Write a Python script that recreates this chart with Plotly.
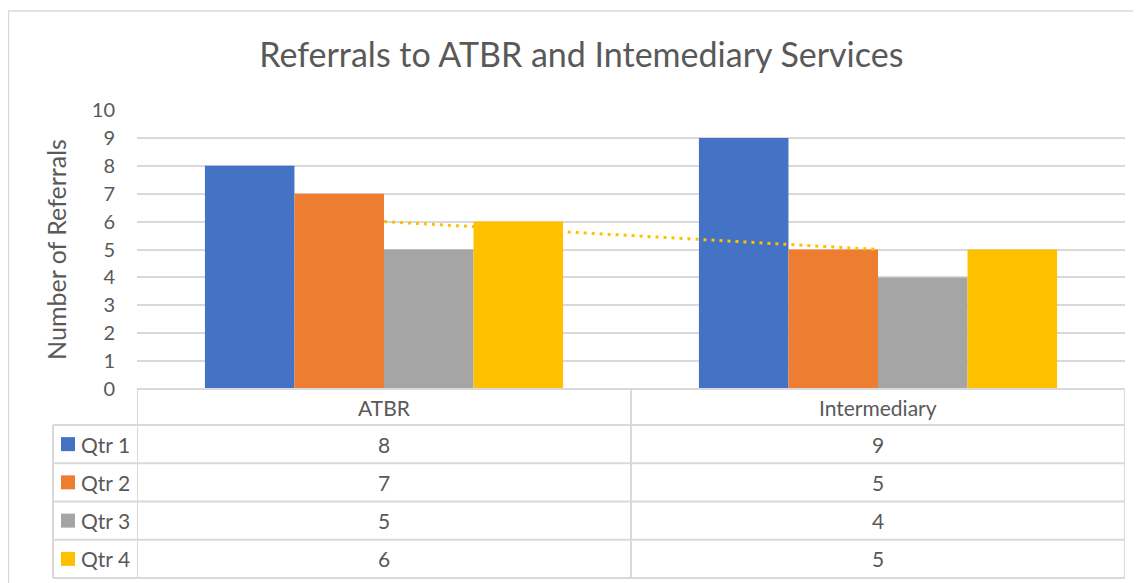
import numpy as np
import plotly.graph_objects as go

categories = ["ATBR", "Intermediary"]
series_names = ["Qtr 1", "Qtr 2", "Qtr 3", "Qtr 4"]
qtr1 = [8, 9]
qtr2 = [7, 5]
qtr3 = [5, 4]
qtr4 = [6, 5]
series_values = [qtr1, qtr2, qtr3, qtr4]
colors = ["#4472C4", "#ED7D31", "#A5A5A5", "#FFC000"]
y_ticks = list(range(0, 11))

FONT = "Lato, 'Open Sans', sans-serif"
TXT = "#595959"
GRID = "#d9d9d9"

# page has an 8px body margin; figure coordinates = screen - 8
OFF = 8
W, H = 1141 - OFF, 583 - OFF
ML, MT = 137 - OFF, 110 - OFF
PLOT_RIGHT, PLOT_BOTTOM = 1125 - OFF, 389 - OFF
MR, MB = W - PLOT_RIGHT, H - PLOT_BOTTOM
PH = H - MT - MB
PW = W - ML - MR

def py(pix):  # screen pixel -> paper y
    return (PLOT_BOTTOM - (pix - OFF)) / PH

def px(pix):  # screen pixel -> paper x
    return ((pix - OFF) - ML) / PW

xs = np.arange(len(categories))

fig = go.Figure()
for name, vals, col in zip(series_names, series_values, colors):
    fig.add_trace(go.Bar(x=xs, y=vals, name=name, marker=dict(color=col, line=dict(width=0)),
                         showlegend=False))

# linear trendline for Qtr 4
coef = np.polyfit(xs, qtr4, 1)
trend = np.polyval(coef, xs)
fig.add_trace(go.Scatter(x=xs, y=trend, mode="lines",
                         line=dict(color="#FFC000", width=3, dash="3px,5px"),
                         showlegend=False, hoverinfo="skip"))

shapes = []
annotations = []
line = dict(color=GRID, width=2)

header_top, header_bot = 389, 425
row_h = 38.25
row_edges = [header_bot + i * row_h for i in range(len(series_names) + 1)]
label_left = 53

shapes.append(dict(type="line", xref="x", yref="paper", x0=-0.5, x1=1.5,
                   y0=py(header_top), y1=py(header_top), line=line))
for ye in row_edges:
    shapes.append(dict(type="line", xref="paper", yref="paper", x0=px(label_left), x1=1,
                       y0=py(ye), y1=py(ye), line=line))
for xv in [-0.5, 0.5, 1.5]:
    shapes.append(dict(type="line", xref="x", yref="paper", x0=xv, x1=xv,
                       y0=py(header_top), y1=py(row_edges[-1]), line=line))
shapes.append(dict(type="line", xref="paper", yref="paper", x0=px(label_left), x1=px(label_left),
                   y0=py(header_bot), y1=py(row_edges[-1]), line=line))

# outer chart frame
shapes.append(dict(type="rect", xref="paper", yref="paper", x0=px(8.5), x1=px(1170),
                   y0=py(620), y1=py(11), line=dict(color=GRID, width=1.5)))

TF = dict(size=21, color=TXT, family=FONT)
for i, c in enumerate(categories):
    annotations.append(dict(x=i, y=py((header_top + header_bot) / 2), xref="x", yref="paper",
                            yanchor="middle", text=c, showarrow=False, font=TF))
for r, (name, vals, col) in enumerate(zip(series_names, series_values, colors)):
    yc = py((row_edges[r] + row_edges[r + 1]) / 2)
    for i, v in enumerate(vals):
        annotations.append(dict(x=i, y=yc, xref="x", yref="paper", yanchor="middle",
                                text=str(v), showarrow=False, font=TF))
    shapes.append(dict(type="rect", xref="paper", yref="paper", x0=px(61), x1=px(75),
                       y0=yc - 7 / PH, y1=yc + 7 / PH, fillcolor=col, line=dict(width=0)))
    annotations.append(dict(x=px(79), y=yc, xref="paper", yref="paper", text=name, showarrow=False,
                            xanchor="left", yanchor="middle", font=TF))

fig.update_layout(
    width=W, height=H,
    margin=dict(l=ML, r=MR, t=MT, b=MB),
    paper_bgcolor="white", plot_bgcolor="white",
    barmode="group", bargap=0.275, bargroupgap=0,
    title=dict(text="Referrals to ATBR and Intemediary Services", x=0.506, xanchor="center",
               y=1 - 47 / H, yanchor="middle",
               font=dict(size=34, color=TXT, family=FONT)),
    xaxis=dict(range=[-0.5, 1.5], showticklabels=False, showgrid=False, zeroline=False,
               showline=False, fixedrange=True),
    yaxis=dict(range=[0, 10], tickvals=y_ticks, showgrid=True, gridcolor=GRID, gridwidth=2,
               zeroline=False, showline=False, ticks="", ticklabelstandoff=21,
               tickfont=dict(size=20, color=TXT, family=FONT),
               title=dict(text="Number of Referrals", standoff=18,
                          font=dict(size=25, color=TXT, family=FONT))),
    shapes=shapes, annotations=annotations,
)

fig.write_html("out.html")
